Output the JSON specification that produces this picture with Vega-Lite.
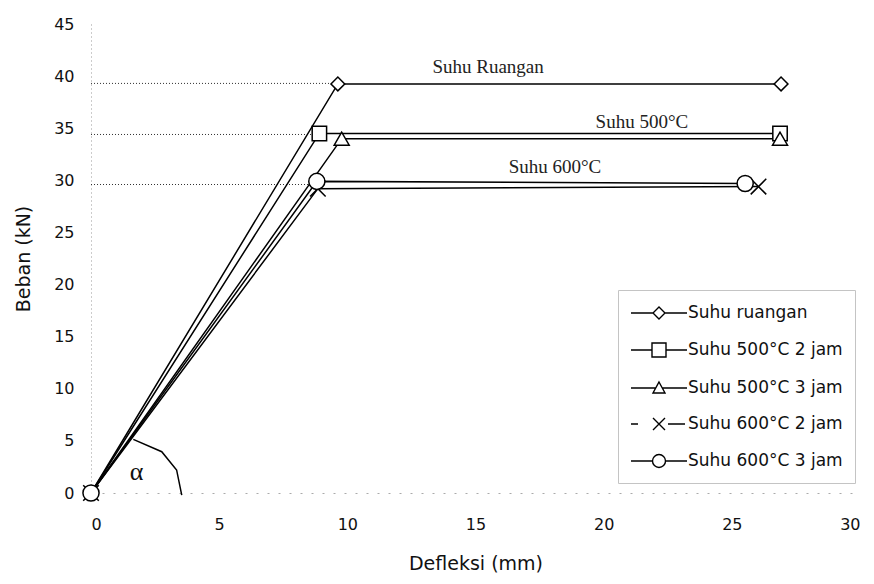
{
  "$schema": "https://vega.github.io/schema/vega-lite/v6.json",
  "autosize": {"type": "none"},
  "padding": {"left": 91, "top": 24, "right": 14, "bottom": 91},
  "width": 769,
  "height": 469,
  "background": "white",
  "config": {
    "view": {"stroke": null},
    "font": "DejaVu Sans",
    "axis": {"labelFont": "DejaVu Sans", "labelFontSize": 16, "labelColor": "#111", "titleFont": "DejaVu Sans", "titleFontSize": 19, "titleFontWeight": "normal", "titleColor": "#111", "grid": false, "ticks": false, "tickSize": 0}
  },
  "resolve": {"scale": {"shape": "independent"}, "legend": {"shape": "independent"}},
  "datasets": {
    "main": [
      {"series": "Suhu ruangan", "x": 0, "y": 0},
      {"series": "Suhu ruangan", "x": 9.63, "y": 39.25},
      {"series": "Suhu ruangan", "x": 26.92, "y": 39.25},
      {"series": "Suhu 500°C 2 jam", "x": 0, "y": 0},
      {"series": "Suhu 500°C 2 jam", "x": 8.91, "y": 34.5},
      {"series": "Suhu 500°C 2 jam", "x": 26.88, "y": 34.5},
      {"series": "Suhu 500°C 3 jam", "x": 0, "y": 0},
      {"series": "Suhu 500°C 3 jam", "x": 9.78, "y": 34.0},
      {"series": "Suhu 500°C 3 jam", "x": 26.88, "y": 34.0},
      {"series": "Suhu 600°C 2 jam", "x": 0, "y": 0},
      {"series": "Suhu 600°C 2 jam", "x": 8.85, "y": 29.2},
      {"series": "Suhu 600°C 2 jam", "x": 26.04, "y": 29.4},
      {"series": "Suhu 600°C 3 jam", "x": 0, "y": 0},
      {"series": "Suhu 600°C 3 jam", "x": 8.81, "y": 29.9},
      {"series": "Suhu 600°C 3 jam", "x": 25.52, "y": 29.7}
    ],
    "refs": [
      {"ref": "a", "x": 0, "y": 39.3},
      {"ref": "a", "x": 9.63, "y": 39.3},
      {"ref": "b", "x": 0, "y": 34.4},
      {"ref": "b", "x": 8.91, "y": 34.4},
      {"ref": "c", "x": 0, "y": 29.6},
      {"ref": "c", "x": 8.81, "y": 29.6}
    ],
    "notes": [
      {"label": "Suhu Ruangan", "x": 15.49, "y": 40.9},
      {"label": "Suhu 500°C", "x": 21.49, "y": 35.6},
      {"label": "Suhu 600°C", "x": 18.1, "y": 31.3}
    ],
    "alpha": [{"label": "α", "x": 1.78, "y": 2.0}],
    "arc": [
      {"x": 1.65, "y": 5.15},
      {"x": 2.76, "y": 3.96},
      {"x": 3.34, "y": 2.21},
      {"x": 3.54, "y": -0.2}
    ]
  },
  "layer": [
    {
      "data": {"name": "refs"},
      "mark": {"type": "line", "color": "#333", "strokeDash": [1, 2], "strokeWidth": 1},
      "encoding": {
        "x": {"field": "x", "type": "quantitative", "title": "Defleksi (mm)",
          "scale": {"domain": [0, 30], "nice": false, "zero": true},
          "axis": {"values": [0, 5, 10, 15, 20, 25, 30], "labelPadding": 23, "titlePadding": 22, "domainColor": "#aaa", "domainDash": [2, 9], "domainWidth": 1}},
        "y": {"field": "y", "type": "quantitative", "title": "Beban (kN)",
          "scale": {"domain": [0, 45], "nice": false},
          "axis": {"values": [0, 5, 10, 15, 20, 25, 30, 35, 40, 45], "labelPadding": 17, "titlePadding": 20, "domainColor": "#999", "domainDash": [1, 3], "domainWidth": 1}},
        "detail": {"field": "ref", "type": "nominal"}
      }
    },
    {
      "data": {"name": "main"},
      "mark": {"type": "line", "color": "black", "clip": false},
      "encoding": {
        "x": {"field": "x", "type": "quantitative", "title": "Defleksi (mm)"},
        "y": {"field": "y", "type": "quantitative", "title": "Beban (kN)"},
        "detail": {"field": "series", "type": "nominal"},
        "strokeWidth": {"field": "series", "type": "nominal", "legend": null,
          "scale": {"domain": ["Suhu ruangan", "Suhu 500°C 2 jam", "Suhu 500°C 3 jam", "Suhu 600°C 2 jam", "Suhu 600°C 3 jam"], "range": [1.5, 1.5, 1.5, 3, 1.5]}}
      }
    },
    {
      "data": {"name": "main"},
      "transform": [{"filter": "datum.y > 0 || datum.series === 'Suhu 600°C 2 jam' || datum.series === 'Suhu 600°C 3 jam'"}],
      "mark": {"type": "point", "filled": false, "fill": "white", "fillOpacity": 1, "stroke": "black", "strokeWidth": 1.5, "opacity": 1, "clip": false},
      "encoding": {
        "x": {"field": "x", "type": "quantitative", "title": "Defleksi (mm)"},
        "y": {"field": "y", "type": "quantitative", "title": "Beban (kN)"},
        "shape": {"field": "series", "type": "nominal",
          "scale": {"domain": ["Suhu ruangan", "Suhu 500°C 2 jam", "Suhu 500°C 3 jam", "Suhu 600°C 2 jam", "Suhu 600°C 3 jam"],
            "range": ["diamond", "square", "triangle-up", "M-1,-1L1,1M-1,1L1,-1", "circle"]},
          "legend": null},
        "size": {"field": "series", "type": "nominal", "legend": null,
          "scale": {"domain": ["Suhu ruangan", "Suhu 500°C 2 jam", "Suhu 500°C 3 jam", "Suhu 600°C 2 jam", "Suhu 600°C 3 jam"], "range": [190, 260, 190, 110, 190]}}
      }
    },
    {
      "data": {"name": "main"},
      "transform": [{"filter": "datum.y > 0"}],
      "mark": {"type": "point", "filled": false, "opacity": 0, "stroke": "black", "clip": false},
      "encoding": {
        "x": {"field": "x", "type": "quantitative", "title": "Defleksi (mm)"},
        "y": {"field": "y", "type": "quantitative", "title": "Beban (kN)"},
        "shape": {"field": "series", "type": "nominal",
          "scale": {"domain": ["Suhu ruangan", "Suhu 500°C 2 jam", "Suhu 500°C 3 jam", "Suhu 600°C 2 jam", "Suhu 600°C 3 jam"],
            "range": ["M-2.8,0L-0.6,0M0.6,0L2.8,0M0,-0.6L0.6,0L0,0.6L-0.6,0Z", "M-2.8,0L-0.7,0M0.7,0L2.8,0M-0.7,-0.7L0.7,-0.7L0.7,0.7L-0.7,0.7Z", "M-2.8,0L-0.33,0M0.33,0L2.8,0M0,-0.6L0.6,0.5L-0.6,0.5Z", "M-2.8,0L-2.1,0M0.9,0L2.6,0M-0.6,-0.6L0.6,0.6M-0.6,0.6L0.6,-0.6", "M-2.8,0L-0.65,0M0.65,0L2.8,0M0.65,0A0.65,0.65,0,1,1,-0.65,0A0.65,0.65,0,1,1,0.65,0Z"]},
          "legend": {
            "title": null, "orient": "none", "legendX": 527, "legendY": 266,
            "padding": 12, "rowPadding": 17, "labelFont": "DejaVu Sans", "labelFontSize": 17, "labelColor": "#111",
            "labelOffset": 18, "symbolOffset": 18, "symbolSize": 400, "strokeColor": "#c4c4c4", "fillColor": "white",
            "symbolFillColor": "white", "symbolStrokeColor": "black", "symbolStrokeWidth": 1.4, "symbolOpacity": 1,
            "encode": {
              "symbols": {"update": {"opacity": {"value": 1}, "fill": {"value": "white"}, "fillOpacity": {"value": 1}, "stroke": {"value": "black"}}}
            }
          }}
      }
    },
    {
      "data": {"name": "arc"},
      "mark": {"type": "line", "color": "black", "strokeWidth": 1.5, "clip": false},
      "encoding": {
        "x": {"field": "x", "type": "quantitative", "title": "Defleksi (mm)"},
        "y": {"field": "y", "type": "quantitative", "title": "Beban (kN)"}
      }
    },
    {
      "data": {"name": "notes"},
      "mark": {"type": "text", "font": "Liberation Serif", "fontSize": 19, "color": "#222"},
      "encoding": {
        "x": {"field": "x", "type": "quantitative", "title": "Defleksi (mm)"},
        "y": {"field": "y", "type": "quantitative", "title": "Beban (kN)"},
        "text": {"field": "label"}
      }
    },
    {
      "data": {"name": "alpha"},
      "mark": {"type": "text", "font": "Liberation Serif", "fontSize": 26, "color": "#111"},
      "encoding": {
        "x": {"field": "x", "type": "quantitative", "title": "Defleksi (mm)"},
        "y": {"field": "y", "type": "quantitative", "title": "Beban (kN)"},
        "text": {"field": "label"}
      }
    }
  ]
}
